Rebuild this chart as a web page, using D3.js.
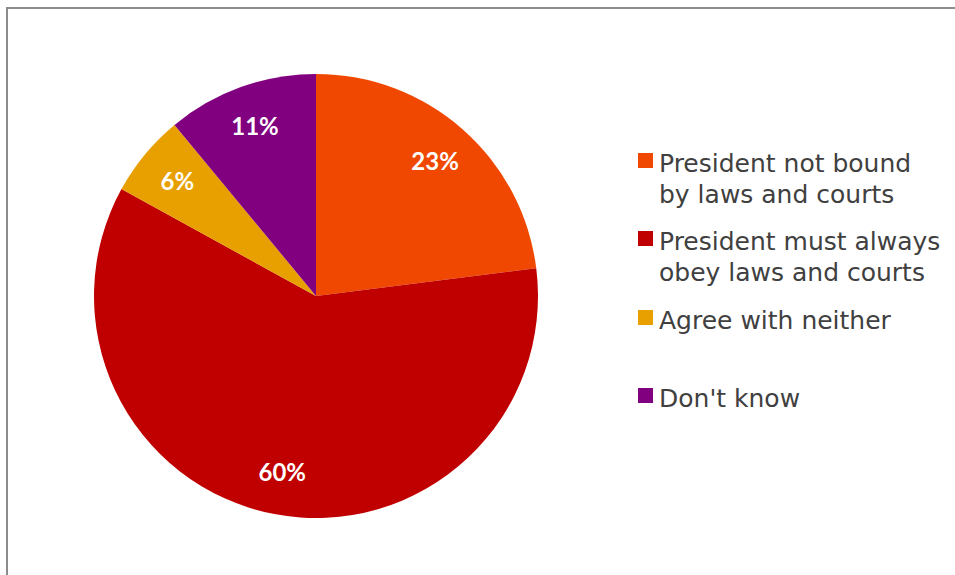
<!DOCTYPE html>
<html>
<head>
<meta charset="utf-8">
<script src="https://cdn.jsdelivr.net/npm/d3@7"></script>
<style>
  html, body { margin: 0; padding: 0; background: #ffffff; }
  svg { display: block; }
</style>
</head>
<body>
<svg id="chart" width="955" height="575"></svg>
<script>
// Survey answers, clockwise from twelve o'clock
const categories = [
  "President not bound by laws and courts",
  "President must always obey laws and courts",
  "Agree with neither",
  "Don't know"
];
const legendLines = [
  ["President not bound", "by laws and courts"],
  ["President must always", "obey laws and courts"],
  ["Agree with neither"],
  ["Don't know"]
];
const shares = [23, 60, 6, 11];
const sliceColors = ["#F04800", "#C00000", "#E89F00", "#800080"];

const svg = d3.select("#chart");

// frame around the plot area
svg.append("path")
  .attr("d", "M7,575 V8 H955")
  .attr("fill", "none")
  .attr("stroke", "#8c8c8c")
  .attr("stroke-width", 2);

const cx = 316, cy = 296, radius = 222;
const color = d3.scaleOrdinal().domain(categories).range(sliceColors);

const pie = d3.pie().sort(null).value(d => d.value);
const arcs = pie(categories.map((c, i) => ({ name: c, value: shares[i] })));

const arc = d3.arc().innerRadius(0).outerRadius(radius);
const labelArc = d3.arc().innerRadius(180).outerRadius(180);

const g = svg.append("g").attr("transform", `translate(${cx},${cy})`);

g.selectAll("path.slice")
  .data(arcs)
  .join("path")
  .attr("class", "slice")
  .attr("d", arc)
  .attr("fill", d => color(d.data.name));

g.selectAll("text.pct")
  .data(arcs)
  .join("text")
  .attr("class", "pct")
  .attr("transform", d => `translate(${labelArc.centroid(d)})`)
  .attr("text-anchor", "middle")
  .attr("dy", "0.36em")
  .attr("fill", "#ffffff")
  .style("font-family", "Lato, 'DejaVu Sans', sans-serif")
  .style("font-weight", "bold")
  .style("font-size", "24px")
  .text(d => d.data.value + "%");

// legend
const legendTop = [153, 231, 310, 388];
const legend = svg.append("g");
categories.forEach((c, i) => {
  const item = legend.append("g").attr("transform", `translate(638,${legendTop[i]})`);
  item.append("rect")
    .attr("width", 15).attr("height", 15)
    .attr("fill", color(c));
  legendLines[i].forEach((line, j) => {
    item.append("text")
      .attr("x", 21)
      .attr("y", 19 + j * 31)
      .attr("fill", "#404040")
      .style("font-family", "'DejaVu Sans', sans-serif")
      .style("font-size", "25px")
      .text(line);
  });
});
</script>
</body>
</html>
